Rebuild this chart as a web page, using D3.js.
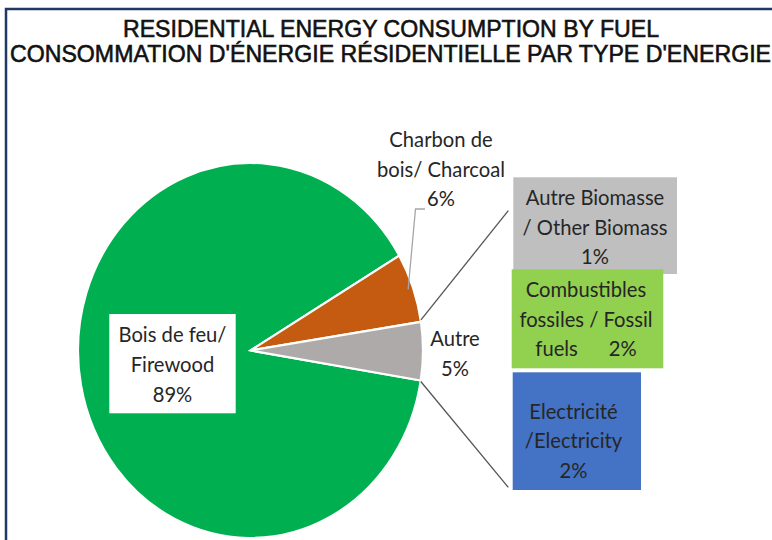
<!DOCTYPE html>
<html><head><meta charset="utf-8">
<script src="https://cdn.jsdelivr.net/npm/d3@7"></script>
<style>html,body{margin:0;padding:0;background:#fff;overflow:hidden}</style>
</head><body>
<svg id="c" width="772" height="540"></svg>
<script>
// ---- data ----
const titleLines = ["RESIDENTIAL ENERGY CONSUMPTION BY FUEL", "CONSOMMATION D'ÉNERGIE RÉSIDENTIELLE PAR TYPE D'ENERGIE"];
const sliceNames = ["Bois de feu/ Firewood", "Charbon de bois/ Charcoal", "Autre"];
const sliceValues = [89, 6, 5];
const sliceLabelLines = [["Bois de feu/", "Firewood", "89%"], ["Charbon de", "bois/ Charcoal", "6%"], ["Autre", "5%"]];
const otherNames = ["Autre Biomasse / Other Biomass", "Combustibles fossiles / Fossil fuels", "Electricité /Electricity"];
const otherValues = [1, 2, 2];
const otherLabelLines = [["Autre Biomasse", "/ Other Biomass", "1%"], ["Combustibles", "fossiles / Fossil", "fuels      2%"], ["Electricité", "/Electricity", "2%"]];

// ---- layout / style ----
const sliceColors = ["#00b050", "#c55a11", "#aeaaaa"];
const otherColors = ["#bfbfbf", "#92d050", "#4472c4"];
const cx = 250.5, cy = 350.5, rx = 172.5, ry = 187.5;
const vs = ry / rx; // vertical stretch of the whole picture
const font = "Lato, Carlito, Calibri, sans-serif";
const fsz = 20.2;
const textCol = "#262626";
const lineGap = 29.7;

const svg = d3.select("#c");

// frame
svg.append("path").attr("d", "M6,540 L6,9 L772,9").attr("fill", "none")
  .attr("stroke", "#1f3864").attr("stroke-width", 2.5);

// title
const tt = svg.append("g").attr("font-family", "'Liberation Sans Narrow', 'Arial Narrow', 'Liberation Sans', Arial, sans-serif")
  .attr("font-size", 22.5).attr("fill", "#111").attr("stroke", "#111").attr("stroke-width", 0.55);
const titleSpec = [{x: 391, y: 37, w: 536}, {x: 390.5, y: 62, w: 761}];
titleLines.forEach((t, i) => {
  tt.append("text").attr("transform", `translate(${titleSpec[i].x},${titleSpec[i].y}) scale(1,1.08)`)
    .attr("text-anchor", "middle").attr("textLength", titleSpec[i].w)
    .attr("lengthAdjust", "spacingAndGlyphs").text(t);
});

// pie (elliptical via vertical scale)
const pie = d3.pie().sort(null).startAngle(99.2 * Math.PI / 180).endAngle((99.2 + 360) * Math.PI / 180);
const arcs = pie(sliceValues);
const arc = d3.arc().innerRadius(0).outerRadius(rx);
const pg = svg.append("g").attr("transform", `translate(${cx},${cy}) scale(1,${vs})`);
pg.selectAll("path").data(arcs).join("path")
  .attr("d", arc).attr("fill", (d, i) => sliceColors[i])
  .attr("stroke", "#fff").attr("stroke-width", 2.2).attr("vector-effect", "non-scaling-stroke")
  .append("title").text((d, i) => sliceNames[i] + ": " + d.data + "%");

function ellPt(angle, k = 1) {
  return [cx + rx * k * Math.sin(angle), cy - ry * k * Math.cos(angle)];
}

// connector lines from "Autre" slice to breakdown boxes
const autre = arcs[2];
const pTop = ellPt(autre.startAngle), pBot = ellPt(autre.endAngle);
const boxX = 508.3;
svg.append("line").attr("x1", pTop[0]).attr("y1", pTop[1] - 2).attr("x2", boxX).attr("y2", 210.7)
  .attr("stroke", "#555").attr("stroke-width", 1.3);
svg.append("line").attr("x1", pBot[0]).attr("y1", pBot[1] + 1).attr("x2", boxX).attr("y2", 487.3)
  .attr("stroke", "#555").attr("stroke-width", 1.3);

// charcoal leader line
const charMid = (arcs[1].startAngle + arcs[1].endAngle) / 2;
const pc = ellPt(charMid, 0.97);
svg.append("path").attr("d", `M425,209 L415.5,209 L${pc[0]},${pc[1]}`)
  .attr("fill", "none").attr("stroke", "#a6a6a6").attr("stroke-width", 1.3);

function multiLine(x, y, lines, pre) {
  const t = svg.append("text").attr("transform", `translate(${x},${y}) scale(1,${vs})`)
    .attr("font-family", font).attr("font-size", fsz).attr("fill", textCol).attr("text-anchor", "middle");
  if (pre) t.style("white-space", "pre");
  lines.forEach((l, j) => t.append("tspan").attr("x", 0).attr("y", j * lineGap / vs).text(l));
}

// slice labels
const sliceLabelPos = [{x: 172.5, y: 342.3, box: [109.3, 314, 126.4, 99.3]}, {x: 441, y: 147, box: null}, {x: 455, y: 346, box: null}];
sliceLabelLines.forEach((lines, i) => {
  const s = sliceLabelPos[i];
  if (s.box) svg.append("rect").attr("x", s.box[0]).attr("y", s.box[1]).attr("width", s.box[2]).attr("height", s.box[3]).attr("fill", "#fff");
  multiLine(s.x, s.y, lines, false);
});

// breakdown boxes
const boxes = [
  {x0: 513.3, y0: 177.3, x1: 677, y1: 274, tx: 595, ty: 205},
  {x0: 511.7, y0: 269.3, x1: 663.3, y1: 368.3, tx: 586, ty: 297},
  {x0: 512.7, y0: 372.3, x1: 641, y1: 490, tx: 573.5, ty: 418.5}
];
otherValues.forEach((v, i) => {
  const b = boxes[i];
  svg.append("rect").attr("x", b.x0).attr("y", b.y0).attr("width", b.x1 - b.x0).attr("height", b.y1 - b.y0)
    .attr("fill", otherColors[i]).append("title").text(otherNames[i] + ": " + v + "%");
  multiLine(b.tx, b.ty, otherLabelLines[i], true);
});
</script>
</body></html>
